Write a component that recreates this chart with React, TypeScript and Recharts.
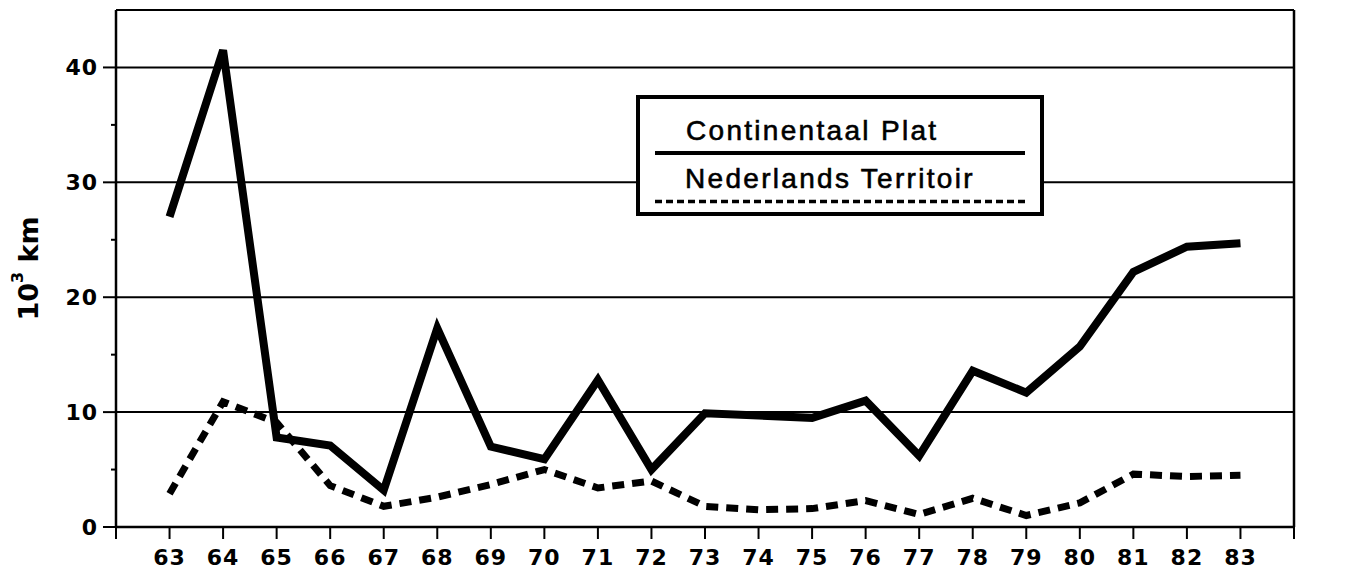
import React from 'react';
import { LineChart, Line, XAxis, YAxis, ReferenceLine, Legend } from 'recharts';

const years = [63, 64, 65, 66, 67, 68, 69, 70, 71, 72, 73, 74, 75, 76, 77, 78, 79, 80, 81, 82, 83];
const continentaalPlat = [27, 41.5, 7.8, 7.1, 3.2, 17.3, 7.0, 5.9, 12.8, 5.0, 9.9, 9.7, 9.5, 11.0, 6.2, 13.6, 11.7, 15.7, 22.2, 24.4, 24.7];
const nederlandsTerritoir = [2.9, 10.9, 9.1, 3.6, 1.8, 2.6, 3.7, 5.0, 3.4, 4.0, 1.8, 1.5, 1.6, 2.3, 1.1, 2.5, 1.0, 2.1, 4.6, 4.4, 4.5];

const xTicks = [62, 63, 64, 65, 66, 67, 68, 69, 70, 71, 72, 73, 74, 75, 76, 77, 78, 79, 80, 81, 82, 83, 84];
const yTicks = [0, 5, 10, 15, 20, 25, 30, 35, 40, 45];
const gridValues = [10, 20, 30, 40, 45];

const data = years.map((year, i) => ({
  year,
  cp: continentaalPlat[i],
  nt: nederlandsTerritoir[i],
}));

const tickFont = "'DejaVu Sans', sans-serif";

function LeftTick({ x, y, payload }: any) {
  const v = payload.value;
  if (v === 45) return <g />;
  const major = v % 10 === 0;
  return (
    <g>
      <line x1={x - (major ? 13 : 5)} x2={x} y1={y} y2={y} stroke="#000" strokeWidth={2} />
      {major ? (
        <text x={x - 18} y={y} dy="0.36em" textAnchor="end" fontFamily={tickFont} fontWeight="bold" fontSize={22} letterSpacing={1} fill="#000">
          {v}
        </text>
      ) : null}
    </g>
  );
}

function RightTick({ x, y, payload }: any) {
  const v = payload.value;
  if (v === 45) return <g />;
  const major = v % 10 === 0;
  return (
    <g>
      <line x1={major ? x : x - 5} x2={major ? x + 12 : x} y1={y} y2={y} stroke="#000" strokeWidth={2} />
      {major ? (
        <text x={x + 17} y={y} dy="0.36em" textAnchor="start" fontFamily={tickFont} fontWeight="bold" fontSize={22} letterSpacing={1} fill="#000">
          {v}
        </text>
      ) : null}
    </g>
  );
}

function AxisTitle({ viewBox }: any) {
  const cx = 28;
  const cy = viewBox.y + viewBox.height / 2;
  return (
    <text
      x={cx}
      y={cy}
      transform={`rotate(-90, ${cx}, ${cy})`}
      textAnchor="middle"
      dominantBaseline="central"
      fontFamily={tickFont}
      fontWeight="bold"
      fontSize={27}
      fill="#000"
    >
      10
      <tspan dy={-11} fontSize={16}>3</tspan>
      <tspan dy={11}> km</tspan>
    </text>
  );
}

function LegendBox({ payload }: any) {
  const items = payload || [];
  return (
    <svg width={408} height={121} style={{ display: 'block' }}>
      <rect x={2} y={2} width={404} height={117} fill="#fff" stroke="#000" strokeWidth={4} />
      {items.map((entry: any, i: number) => {
        const dashed = !!(entry.payload && entry.payload.strokeDasharray);
        const base = 45 + i * 48;
        return (
          <g key={entry.value}>
            <text
              x={i === 0 ? 50 : 49}
              y={base}
              fontFamily="'Liberation Sans', Arial, sans-serif"
              fontSize={28}
              letterSpacing={2.3}
              fill="#000"
              stroke="#000"
              strokeWidth={0.6}
            >
              {entry.value}
            </text>
            <line
              x1={19}
              x2={389}
              y1={base + (dashed ? 13.5 : 13)}
              y2={base + (dashed ? 13.5 : 13)}
              stroke="#000"
              strokeWidth={dashed ? 3.5 : 4}
              strokeDasharray={dashed ? '7 4' : undefined}
            />
          </g>
        );
      })}
    </svg>
  );
}

export default function App() {
  return (
    <div style={{ position: 'absolute', left: 0, top: 0, background: '#fff' }}>
      <LineChart width={1360} height={570} data={data} margin={{ top: 10, right: 0, bottom: 0, left: 0 }}>
        <XAxis
          dataKey="year"
          type="number"
          domain={[62, 84]}
          ticks={xTicks}
          interval={0}
          tickFormatter={(v: number) => (v === 62 || v === 84 ? '' : String(v))}
          height={43}
          axisLine={{ stroke: '#000', strokeWidth: 2.5 }}
          tickLine={{ stroke: '#000', strokeWidth: 2 }}
          tickSize={12}
          tickMargin={10}
          tick={{ fill: '#000', fontSize: 22, fontWeight: 'bold', fontFamily: tickFont, letterSpacing: 1 }}
        />
        <YAxis
          yAxisId="l"
          width={116}
          domain={[0, 45]}
          ticks={yTicks}
          interval={0}
          axisLine={{ stroke: '#000', strokeWidth: 2.5 }}
          tickLine={false}
          tickSize={0}
          tickMargin={0}
          tick={(p: any) => <LeftTick {...p} />}
          label={{ content: (p: any) => <AxisTitle {...p} /> }}
        />
        <YAxis
          yAxisId="r"
          orientation="right"
          width={66}
          domain={[0, 45]}
          ticks={yTicks}
          interval={0}
          axisLine={{ stroke: '#000', strokeWidth: 2.5 }}
          tickLine={false}
          tickSize={0}
          tickMargin={0}
          tick={(p: any) => <RightTick {...p} />}
        />
        {gridValues.map((v) => (
          <ReferenceLine key={v} y={v} yAxisId="l" stroke="#000" strokeWidth={2} />
        ))}
        <Line
          yAxisId="l"
          type="linear"
          dataKey="cp"
          name="Continentaal Plat"
          stroke="#000"
          strokeWidth={8}
          dot={false}
          isAnimationActive={false}
        />
        <Line
          yAxisId="l"
          type="linear"
          dataKey="nt"
          name="Nederlands Territoir"
          stroke="#000"
          strokeWidth={7}
          strokeDasharray="12 8"
          dot={false}
          isAnimationActive={false}
        />
        <Legend
          layout="vertical"
          verticalAlign="middle"
          align="center"
          wrapperStyle={{ left: 636, top: 95, width: 408, height: 121 }}
          content={(p: any) => <LegendBox {...p} />}
        />
      </LineChart>
    </div>
  );
}
